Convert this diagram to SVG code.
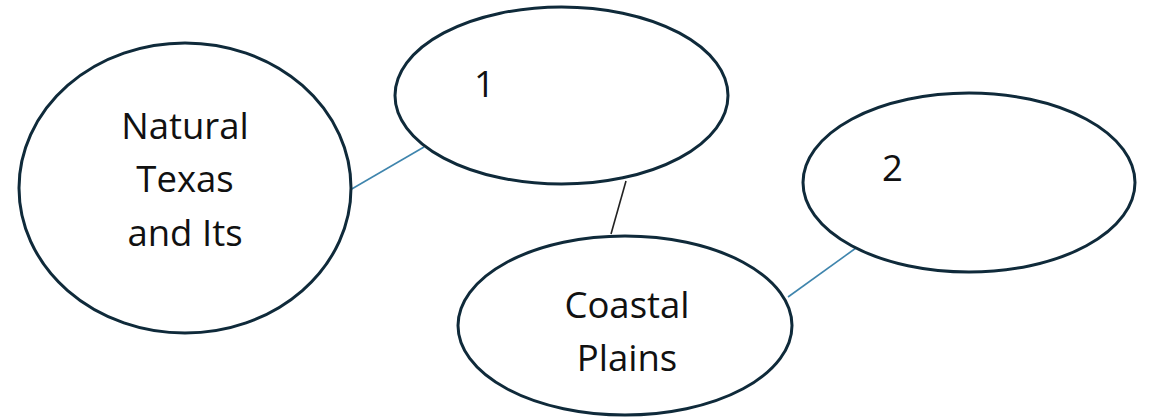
<svg xmlns="http://www.w3.org/2000/svg" width="1150" height="418" viewBox="0 0 1150 418">
<style>
.node{fill:#ffffff;stroke:#0f2a3a;stroke-width:3}
.lbl{font-family:"Open Sans","Liberation Sans",Arial,sans-serif;font-size:36.5px;fill:#111111}
.blue{stroke:#3f85ad;stroke-width:1.6;fill:none}
.dark{stroke:#222222;stroke-width:1.6;fill:none}
</style>
<rect width="1150" height="418" fill="#ffffff"/>
<g id="connectors">
<line class="blue" x1="350" y1="190" x2="424" y2="147"/>
<line class="dark" x1="626" y1="181" x2="611" y2="234"/>
<line class="blue" x1="788" y1="297" x2="856" y2="248"/>
</g>
<g id="node-natural">
<ellipse class="node" cx="185" cy="188" rx="166" ry="145"/>
<text class="lbl" text-anchor="middle" x="185" y="139">Natural</text>
<text class="lbl" text-anchor="middle" x="185" y="192">Texas</text>
<text class="lbl" text-anchor="middle" x="185" y="246">and Its</text>
</g>
<g id="node-1">
<ellipse class="node" cx="561.5" cy="95.5" rx="166.5" ry="88.5"/>
<text class="lbl" x="474" y="97">1</text>
</g>
<g id="node-coastal">
<ellipse class="node" cx="625" cy="325.5" rx="167" ry="89.5"/>
<text class="lbl" text-anchor="middle" x="627" y="318">Coastal</text>
<text class="lbl" text-anchor="middle" x="627" y="371">Plains</text>
</g>
<g id="node-2">
<ellipse class="node" cx="969" cy="182.5" rx="166" ry="89.5"/>
<text class="lbl" x="882" y="181">2</text>
</g>
</svg>
